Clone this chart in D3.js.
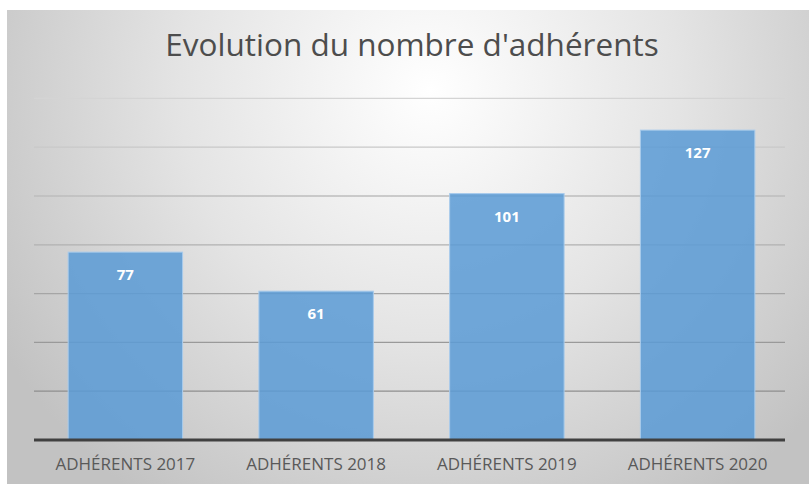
<!DOCTYPE html>
<html>
<head>
<meta charset="utf-8">
<script src="https://cdn.jsdelivr.net/npm/d3@7"></script>
<style>
  body { margin: 0; background: #fff; }
  svg { display: block; }
</style>
</head>
<body>
<svg id="chart" width="809" height="484"></svg>
<script>
"use strict";

// chart data
const categories = ["ADHÉRENTS 2017", "ADHÉRENTS 2018", "ADHÉRENTS 2019", "ADHÉRENTS 2020"];
const values = [77, 61, 101, 127];
const yTicks = [0, 20, 40, 60, 80, 100, 120, 140];
const title = "Evolution du nombre d'adhérents";

const width = 809, height = 484;
const margin = { left: 30, right: 16, top: 97, bottom: 44 };

const svg = d3.select("#chart");
const defs = svg.append("defs");

// background: light centre, grey edges
const bg = defs.append("radialGradient").attr("id", "bg")
  .attr("gradientUnits", "userSpaceOnUse")
  .attr("cx", 430).attr("cy", 90).attr("r", 500)
  .attr("fx", 430).attr("fy", 90);
bg.append("stop").attr("offset", "0%").attr("stop-color", "#ffffff");
bg.append("stop").attr("offset", "50%").attr("stop-color", "#e4e4e4");
bg.append("stop").attr("offset", "100%").attr("stop-color", "#c2c2c2");

// grid lines get darker towards the bottom
const gg = defs.append("linearGradient").attr("id", "grid")
  .attr("gradientUnits", "userSpaceOnUse")
  .attr("x1", 0).attr("y1", 90).attr("x2", 0).attr("y2", 400);
gg.append("stop").attr("offset", "0%").attr("stop-color", "#d6d6d6");
gg.append("stop").attr("offset", "100%").attr("stop-color", "#8c8c8c");

svg.append("rect")
  .attr("x", 7).attr("y", 10)
  .attr("width", width - 7).attr("height", height - 10)
  .attr("fill", "url(#bg)");

const x = d3.scaleBand()
  .domain(categories)
  .range([margin.left, width - margin.right])
  .paddingInner(0.4)
  .paddingOuter(0.2);

const y = d3.scaleLinear()
  .domain([0, 140])
  .range([height - margin.bottom, height - margin.bottom - 140 * 2.44]);

// horizontal grid
svg.append("g")
  .selectAll("line")
  .data(yTicks.filter(d => d > 0))
  .enter().append("line")
  .attr("x1", margin.left + 4).attr("x2", width - margin.right - 8)
  .attr("y1", d => y(d)).attr("y2", d => y(d))
  .attr("stroke", "url(#grid)")
  .attr("stroke-width", 1.3);

// bars
svg.append("g")
  .selectAll("rect")
  .data(values)
  .enter().append("rect")
  .attr("x", (d, i) => x(categories[i]))
  .attr("y", d => y(d))
  .attr("width", x.bandwidth())
  .attr("height", d => y(0) - y(d))
  .attr("fill", "#5b9bd5")
  .attr("fill-opacity", 0.86)
  .attr("stroke", "#a9cbec")
  .attr("stroke-width", 1);

// value labels
svg.append("g")
  .selectAll("text")
  .data(values)
  .enter().append("text")
  .attr("x", (d, i) => x(categories[i]) + x.bandwidth() / 2)
  .attr("y", d => y(d) + 28)
  .attr("text-anchor", "middle")
  .attr("fill", "#ffffff")
  .attr("font-family", "'Open Sans', sans-serif")
  .attr("font-weight", "bold")
  .attr("font-size", 15)
  .text(d => d);

// x axis
const axis = svg.append("g")
  .attr("transform", "translate(0," + y(0) + ")")
  .call(d3.axisBottom(x).tickSize(0).tickPadding(18));
axis.select(".domain")
  .attr("d", "M" + (margin.left + 4) + ",0H" + (width - margin.right - 8))
  .attr("stroke", "#404040")
  .attr("stroke-width", 3);
axis.selectAll("text")
  .attr("fill", "#595959")
  .attr("font-family", "'Open Sans', sans-serif")
  .attr("font-size", 17);

// title
svg.append("text")
  .attr("x", 412)
  .attr("y", 56)
  .attr("text-anchor", "middle")
  .attr("fill", "#4d4d4d")
  .attr("font-family", "'Open Sans', sans-serif")
  .attr("font-size", 31.5)
  .text(title);
</script>
</body>
</html>
